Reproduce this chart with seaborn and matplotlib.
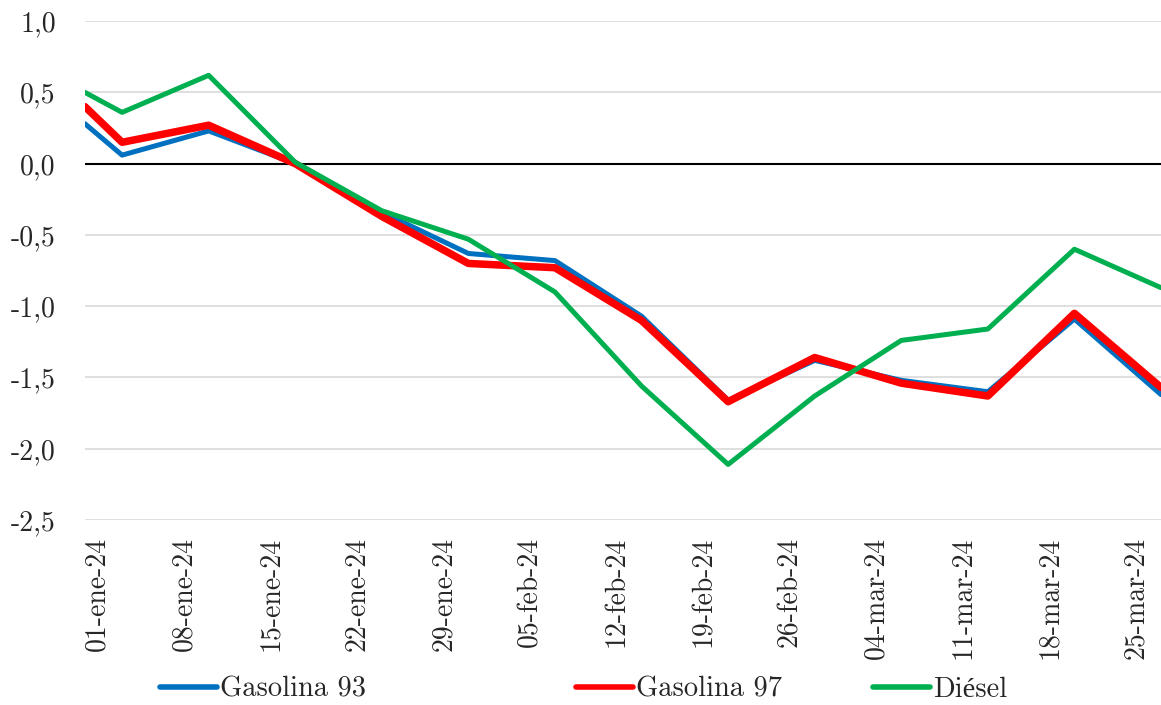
import matplotlib
matplotlib.use("Agg")
import matplotlib.pyplot as plt
import pandas as pd
import seaborn as sns

# weekly fuel price change data
dates = ["2023-12-31", "2024-01-03", "2024-01-10", "2024-01-17", "2024-01-24",
         "2024-01-31", "2024-02-07", "2024-02-14", "2024-02-21", "2024-02-28",
         "2024-03-06", "2024-03-13", "2024-03-20", "2024-03-27"]
gasolina_93 = [0.28, 0.06, 0.23, 0.00, -0.34, -0.63, -0.68, -1.07, -1.66, -1.38,
               -1.52, -1.60, -1.09, -1.62]
gasolina_97 = [0.40, 0.15, 0.27, 0.00, -0.37, -0.70, -0.73, -1.10, -1.67, -1.36,
               -1.54, -1.63, -1.05, -1.57]
diesel = [0.50, 0.36, 0.62, 0.01, -0.33, -0.53, -0.90, -1.56, -2.11, -1.63,
          -1.24, -1.16, -0.60, -0.87]

series_names = ["Gasolina 93", "Gasolina 97", "Diésel"]
series_colors = ["#0070C0", "#FF0000", "#00B050"]
series_widths = [3.6, 5.4, 3.6]

tick_dates = ["2024-01-01", "2024-01-08", "2024-01-15", "2024-01-22", "2024-01-29",
              "2024-02-05", "2024-02-12", "2024-02-19", "2024-02-26", "2024-03-04",
              "2024-03-11", "2024-03-18", "2024-03-25"]
tick_labels = ["01-ene-24", "08-ene-24", "15-ene-24", "22-ene-24", "29-ene-24",
               "05-feb-24", "12-feb-24", "19-feb-24", "26-feb-24", "04-mar-24",
               "11-mar-24", "18-mar-24", "25-mar-24"]
y_ticks = [-2.5, -2.0, -1.5, -1.0, -0.5, 0.0, 0.5, 1.0]
y_labels = ["-2,5", "-2,0", "-1,5", "-1,0", "-0,5", "0,0", "0,5", "1,0"]

sns.set_theme(style="white")
plt.rcParams["font.family"] = ["cmr10", "Liberation Serif"]
plt.rcParams["axes.unicode_minus"] = False

df = pd.DataFrame({
    "fecha": pd.to_datetime(dates),
    "Gasolina 93": gasolina_93,
    "Gasolina 97": gasolina_97,
    "Diésel": diesel,
})

fig = plt.figure(figsize=(11.61, 7.05), dpi=100)
ax = fig.add_axes([0.0732, 0.2624, 0.9268, 0.7076])

# grid lines
for yv in y_ticks:
    if yv == 0:
        continue
    ax.axhline(yv, color="#D9D9D9", linewidth=1.2, zorder=0)
ax.axhline(0, color="black", linewidth=1.5, zorder=1)

handles = []
for name, color, lw in zip(series_names, series_colors, series_widths):
    sns.lineplot(data=df, x="fecha", y=name, ax=ax, color=color, linewidth=lw,
                 label=name, legend=False, zorder=3)
    handles.append(ax.lines[-1])

ax.set_xlim(df["fecha"].iloc[0], df["fecha"].iloc[-1])
ax.set_ylim(-2.5, 1.0)
ax.set_xticks(pd.to_datetime(tick_dates))
ax.set_xticklabels(tick_labels, rotation=90, fontsize=20)
ax.set_yticks(y_ticks)
ax.set_yticklabels(y_labels, fontsize=20)
ax.tick_params(axis="x", length=0, pad=12)
ax.tick_params(axis="y", length=0, pad=21)
ax.set_xlabel("")
ax.set_ylabel("")
for spine in ax.spines.values():
    spine.set_visible(False)

# legend entries spread along the bottom like the original
legend_x = [160 / 1161, 576 / 1161, 873 / 1161]
for h, lx in zip(handles, legend_x):
    leg = fig.legend(handles=[h], loc="center left", bbox_to_anchor=(lx, 0.022),
                     frameon=False, fontsize=20.5, handlelength=2.0,
                     handletextpad=0.1, borderpad=0, borderaxespad=0)
    for line in leg.get_lines():
        line.set_linewidth(4)
        line.set_solid_capstyle("round")

fig.savefig("out.png", dpi=100)
